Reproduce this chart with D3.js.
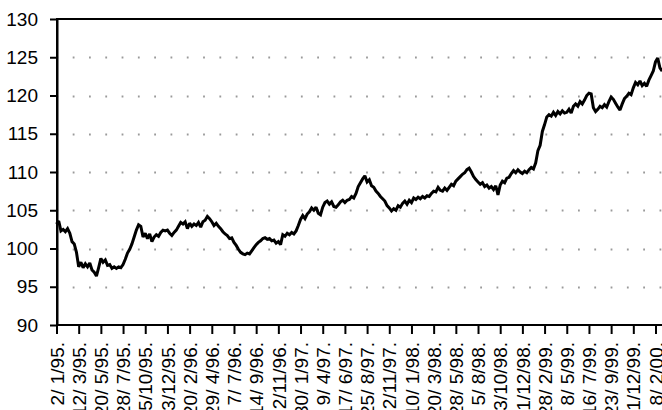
<!DOCTYPE html>
<html>
<head>
<meta charset="utf-8">
<script src="https://cdn.jsdelivr.net/npm/d3@7"></script>
<style>
  html, body { margin: 0; padding: 0; background: #fff; }
  svg { display: block; }
  text { font-family: "Liberation Sans", Arial, sans-serif; fill: #000; }
</style>
</head>
<body>
<svg id="chart" width="662" height="410"></svg>
<script>
// Weekly index values, starting 2/1/95
const seriesValues = [
  103.2,103.6,102.3,102.5,102.2,102.6,102.0,100.9,100.6,99.5,
  97.6,98.2,97.5,98.0,97.6,98.1,97.2,96.9,96.4,97.5,
  98.7,98.2,98.5,97.8,97.9,97.4,97.6,97.4,97.6,97.5,
  97.9,98.6,99.4,99.9,100.6,101.5,102.4,103.1,102.9,101.5,
  102.0,101.3,101.9,100.9,101.5,101.8,101.6,102.1,102.4,102.3,
  102.4,102.0,101.7,102.1,102.4,102.9,103.4,103.2,103.5,102.6,
  103.3,102.9,103.2,103.0,103.4,102.8,103.5,103.7,104.2,103.9,
  103.5,103.0,103.3,102.9,102.6,102.2,101.9,101.7,101.3,101.4,
  100.8,100.4,99.9,99.5,99.3,99.2,99.4,99.3,99.7,100.1,
  100.5,100.8,101.0,101.3,101.4,101.2,101.3,101.0,101.1,100.7,
  100.9,100.5,101.8,101.6,102.0,101.8,102.1,101.9,102.3,103.0,
  103.8,104.3,103.9,104.5,104.8,105.3,105.0,105.4,104.6,104.4,
  105.4,106.0,106.2,105.8,106.1,105.5,105.4,105.7,106.1,106.3,
  106.0,106.3,106.4,106.8,106.6,107.2,108.1,108.6,109.1,109.5,
  108.7,109.0,108.2,108.0,107.5,107.2,106.8,106.5,106.2,105.6,
  105.3,104.9,105.2,105.0,105.6,105.4,105.9,106.2,105.8,106.3,
  106.0,106.6,106.4,106.7,106.5,106.8,106.6,106.9,106.8,107.2,
  107.5,107.4,108.0,107.6,107.5,107.9,107.6,108.0,108.4,108.2,
  108.8,109.1,109.4,109.7,109.9,110.3,110.5,110.0,109.4,109.0,
  108.7,108.4,108.6,108.1,108.3,107.9,108.1,107.7,108.2,107.0,
  108.3,108.8,108.6,109.2,109.3,109.8,110.2,109.9,110.3,110.0,
  109.8,110.1,109.9,110.3,110.6,110.4,111.2,112.8,113.5,115.3,
  116.2,117.2,117.5,117.3,117.8,117.4,117.9,117.6,118.0,117.7,
  117.8,118.2,117.7,118.6,118.9,118.6,119.2,118.9,119.4,120.0,
  120.3,120.2,118.4,117.9,118.2,118.6,118.4,118.8,118.5,119.2,
  119.8,119.5,119.0,118.5,118.1,118.9,119.6,119.9,120.3,120.1,
  121.0,121.7,121.4,121.9,121.3,121.6,121.2,122.0,122.6,123.2,
  124.4,124.9,123.6,123.2
];

// Category-axis tick labels, one every 10 weeks
const tickLabels = [
  "2/ 1/95.","12/ 3/95.","20/ 5/95.","28/ 7/95.","5/10/95.","13/12/95.",
  "20/ 2/96.","29/ 4/96.","7/ 7/96.","14/ 9/96.","22/11/96.","30/ 1/97.",
  "9/ 4/97.","17/ 6/97.","25/ 8/97.","2/11/97.","10/ 1/98.","20/ 3/98.",
  "28/ 5/98.","5/ 8/98.","13/10/98.","21/12/98.","28/ 2/99.","8/ 5/99.",
  "16/ 7/99.","23/ 9/99.","1/12/99.","8/ 2/00."
];
const tickStep = 10;
const yTicks = [90, 95, 100, 105, 110, 115, 120, 125, 130];
const gridValues = [95, 100, 105, 110, 115, 120, 125];

const svg = d3.select("#chart");
const plotLeft = 57, plotTop = 19, plotBottom = 325;
const x = d3.scaleLinear().domain([0, 270]).range([56.5, 655.5]);
const y = d3.scaleLinear().domain([90, 130]).range([plotBottom, plotTop]);

// dotted gridlines
svg.append("g").selectAll("line").data(gridValues).join("line")
  .attr("x1", plotLeft + 1).attr("x2", 700)
  .attr("y1", d => Math.round(y(d)) + 0.5).attr("y2", d => Math.round(y(d)) + 0.5)
  .attr("stroke", "#9a9a9a").attr("stroke-width", 1.8)
  .attr("stroke-dasharray", "1.8 14.5").attr("stroke-dashoffset", -14.7);

// plot area border (top / right edge)
svg.append("rect").attr("x", plotLeft).attr("y", plotTop)
  .attr("width", 700).attr("height", plotBottom - plotTop)
  .attr("fill", "none").attr("stroke", "#000").attr("stroke-width", 2);

// series line
const line = d3.line().x((d, i) => x(i)).y(d => y(d)).curve(d3.curveLinear);
svg.append("path").datum(seriesValues).attr("d", line)
  .attr("fill", "none").attr("stroke", "#000").attr("stroke-width", 3)
  .attr("stroke-linejoin", "miter").attr("stroke-miterlimit", 2);

// y axis
const yAxis = d3.axisLeft(y).tickValues(yTicks).tickSize(7).tickSizeOuter(0).tickPadding(12);
const gy = svg.append("g").attr("transform", `translate(${plotLeft},0)`).call(yAxis);
gy.select(".domain").attr("stroke-width", 2).attr("stroke", "#000");
gy.selectAll(".tick line").attr("stroke-width", 2).attr("stroke", "#000");
gy.selectAll(".tick text").style("font-size", "19px").attr("fill", "#000")
  .attr("font-family", null);

// x axis
const tickIdx = tickLabels.map((d, i) => i * tickStep);
const xAxis = d3.axisBottom(x).tickValues(tickIdx)
  .tickFormat((d, i) => tickLabels[i]).tickSize(9).tickSizeOuter(0);
const gx = svg.append("g").attr("transform", `translate(0,${plotBottom})`).call(xAxis);
gx.select(".domain").attr("d", `M${plotLeft},0H700`).attr("stroke-width", 2).attr("stroke", "#000");
gx.selectAll(".tick line").attr("stroke-width", 2).attr("stroke", "#000");
gx.selectAll(".tick text")
  .style("font-size", "19px").attr("fill", "#000").attr("font-family", null)
  .style("white-space", "pre")
  .attr("text-anchor", "end")
  .attr("transform", "rotate(-90)")
  .attr("x", -17).attr("y", 0).attr("dy", "0.35em");
</script>
</body>
</html>
